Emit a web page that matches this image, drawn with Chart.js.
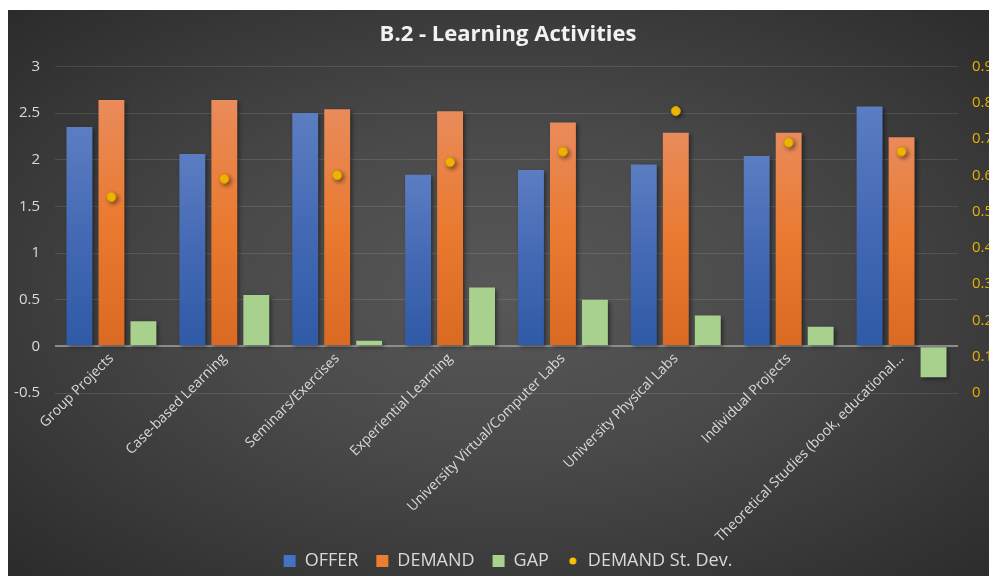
<!DOCTYPE html>
<html>
<head>
  <title>B.2 - Learning Activities</title>
  <script src="https://cdn.jsdelivr.net/npm/chart.js"></script>
  <style>
    body {
      margin: 0;
      background: #ffffff;
      overflow: hidden;
    }
    #wrap {
      position: absolute;
      left: 8px;
      top: 10px;
      width: 1000px;
      height: 566px;
      background: radial-gradient(ellipse farthest-corner at 50% 50%, #585858 0%, #4a4a4a 40%, #2b2b2b 100%);
    }
  </style>
</head>
<body>
  <div id="wrap"><canvas id="chart"></canvas></div>

  <script>
    const categories = [
      'Group Projects',
      'Case-based Learning',
      'Seminars/Exercises',
      'Experiential Learning',
      'University Virtual/Computer Labs',
      'University Physical Labs',
      'Individual Projects',
      'Theoretical Studies (book, educational\u2026'
    ];
    const offer = [2.35, 2.06, 2.50, 1.84, 1.89, 1.95, 2.04, 2.57];
    const demand = [2.64, 2.64, 2.54, 2.52, 2.40, 2.29, 2.29, 2.24];
    const gap = [0.27, 0.55, 0.06, 0.63, 0.50, 0.33, 0.21, -0.33];
    const demandStDev = [0.54, 0.59, 0.60, 0.636, 0.665, 0.777, 0.69, 0.665];

    const leftTicks = { min: -0.5, max: 3, step: 0.5 };
    const rightTicks = { min: 0, max: 0.9, step: 0.1 };

    const legendColors = ['#4472c4', '#ed7d31', '#a9d18e', '#ffc000'];

    // per-bar vertical gradient like the Excel fill
    function barGradient(top, mid, bottom) {
      return function (ctx) {
        const chart = ctx.chart;
        if (!chart.chartArea || ctx.type !== 'data') return bottom;
        const ys = chart.scales.y;
        const p0 = ys.getPixelForValue(0);
        const p1 = ys.getPixelForValue(ctx.parsed.y);
        if (Math.abs(p1 - p0) < 1) return bottom;
        const g = chart.ctx.createLinearGradient(0, Math.min(p0, p1), 0, Math.max(p0, p1));
        g.addColorStop(0, top);
        g.addColorStop(0.5, mid);
        g.addColorStop(1, bottom);
        return g;
      };
    }

    // small dot for the legend
    const dot = document.createElement('canvas');
    dot.width = 12;
    dot.height = 12;
    const dc = dot.getContext('2d');
    dc.fillStyle = '#ffc000';
    dc.beginPath();
    dc.arc(6, 6, 3.5, 0, Math.PI * 2);
    dc.fill();

    const barShadow = {
      id: 'barShadow',
      beforeDatasetDraw(chart) {
        const ctx = chart.ctx;
        ctx.save();
        ctx.shadowColor = 'rgba(0,0,0,0.45)';
        ctx.shadowBlur = 4;
        ctx.shadowOffsetX = 2;
        ctx.shadowOffsetY = 2;
      },
      afterDatasetDraw(chart) {
        chart.ctx.restore();
      }
    };

    Chart.defaults.font.family = '"Open Sans", "Noto Sans", sans-serif';

    new Chart(document.getElementById('chart'), {
      type: 'bar',
      data: {
        labels: categories,
        datasets: [
          {
            label: 'OFFER',
            data: offer,
            backgroundColor: barGradient('#5b7dc2', '#4469b4', '#2f5aa6'),
            xAxisID: 'x',
            yAxisID: 'y',
            order: 1
          },
          {
            label: 'DEMAND',
            data: demand,
            backgroundColor: barGradient('#e98b5b', '#ea7a30', '#da6922'),
            xAxisID: 'x',
            yAxisID: 'y',
            order: 1
          },
          {
            label: 'GAP',
            data: gap,
            backgroundColor: '#a9d18e',
            xAxisID: 'x',
            yAxisID: 'y',
            order: 1
          },
          {
            type: 'line',
            label: 'DEMAND St. Dev.',
            data: demandStDev,
            xAxisID: 'x',
            yAxisID: 'y1',
            showLine: false,
            pointRadius: 4.5,
            pointBackgroundColor: '#ffc000',
            pointBorderColor: '#d29e00',
            pointBorderWidth: 1,
            order: 0
          }
        ]
      },
      plugins: [barShadow],
      options: {
        responsive: true,
        maintainAspectRatio: false,
        animation: false,
        datasets: {
          bar: {
            categoryPercentage: 0.85,
            barPercentage: 0.81
          }
        },
        layout: {
          padding: { left: 0, right: 0, top: 0, bottom: -4 }
        },
        plugins: {
          title: {
            display: true,
            text: 'B.2 - Learning Activities',
            color: '#f2f2f2',
            font: { size: 22, weight: 'bold' },
            padding: { top: 12, bottom: 18 }
          },
          legend: {
            position: 'bottom',
            labels: {
              color: '#d9d9d9',
              font: { size: 18 },
              usePointStyle: true,
              boxWidth: 12,
              boxHeight: 12,
              padding: 18,
              generateLabels: chart => chart.data.datasets.map((ds, i) => ({
                text: ds.label,
                fillStyle: legendColors[i],
                strokeStyle: legendColors[i],
                lineWidth: 0,
                pointStyle: i === 3 ? dot : 'rect',
                hidden: !chart.isDatasetVisible(i),
                datasetIndex: i,
                fontColor: '#d9d9d9'
              }))
            }
          },
          tooltip: { enabled: false }
        },
        scales: {
          // category axis sits on the zero line, as in the original
          x: {
            position: { y: 0 },
            grid: { display: false, drawTicks: false },
            border: { display: false },
            ticks: {
              color: '#d9d9d9',
              font: { size: 14 },
              minRotation: 45,
              maxRotation: 45,
              autoSkip: false,
              padding: 4
            }
          },
          // empty axis that only keeps room for the rotated labels
          xpad: {
            type: 'category',
            position: 'bottom',
            grid: { display: false, drawTicks: false },
            border: { display: false },
            ticks: { display: false },
            afterFit: scale => { scale.height = 141; }
          },
          y: {
            position: 'left',
            min: leftTicks.min,
            max: leftTicks.max,
            ticks: {
              stepSize: leftTicks.step,
              color: '#d9d9d9',
              font: { size: 15 },
              padding: 15,
              callback: v => String(+v.toFixed(1))
            },
            grid: {
              drawTicks: false,
              color: ctx => ctx.tick && ctx.tick.value === 0 ? '#8c8c8c' : 'rgba(255,255,255,0.11)',
              lineWidth: ctx => ctx.tick && ctx.tick.value === 0 ? 2 : 1
            },
            border: { display: false },
            afterFit: scale => { scale.width = 47; }
          },
          y1: {
            position: 'right',
            min: rightTicks.min,
            max: rightTicks.max,
            ticks: {
              stepSize: rightTicks.step,
              color: '#e8b000',
              font: { size: 15 },
              padding: 14,
              callback: v => String(+v.toFixed(1))
            },
            grid: { display: false, drawTicks: false },
            border: { display: false },
            afterFit: scale => { scale.width = 50; }
          }
        }
      }
    });
  </script>
</body>
</html>
